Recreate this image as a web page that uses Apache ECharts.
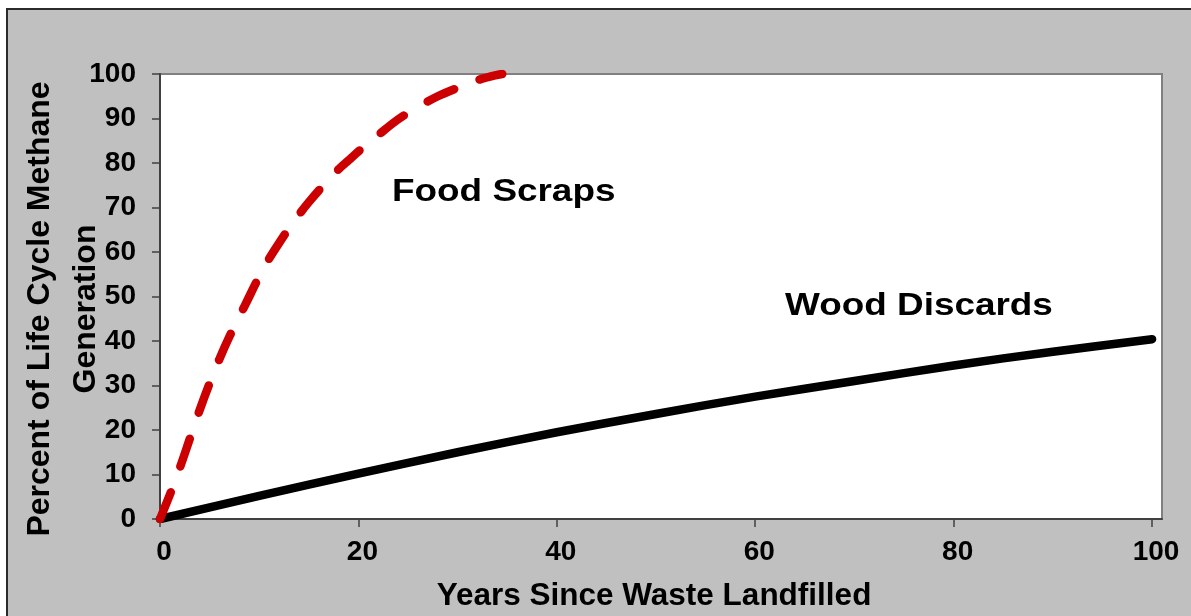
<!DOCTYPE html>
<html>
<head>
<meta charset="utf-8">
<title>Methane generation over time</title>
<script src="https://cdn.jsdelivr.net/npm/echarts@6/dist/echarts.min.js"></script>
<style>
  html, body { margin: 0; padding: 0; background: #ffffff; width: 1191px; height: 616px; overflow: hidden; }
  #frame { position: absolute; left: 6px; top: 8px; width: 1200px; height: 620px; background: #c0c0c0; border: 2px solid #2b2b2b; box-sizing: border-box; }
  #chart { position: absolute; left: 0; top: 0; width: 1191px; height: 616px; }
</style>
</head>
<body>
<div id="frame"></div>
<div id="chart"></div>
<script>
// Cumulative share of life-cycle methane generated, by years since landfilling
const foodYears = [0, 1, 2, 3, 4, 5, 6, 7, 8, 9, 10, 11, 12, 13, 14, 15, 16, 17, 18, 19, 20, 22, 24, 26, 28, 30, 32, 34, 34.5];
const foodPct   = [0, 5.5, 11.5, 18, 24.5, 30.5, 36, 41, 45.5, 50, 54.5, 58.5, 62, 65.3, 68.4, 71.2, 73.8, 76.2, 78.6, 80.6, 82.6, 86.3, 89.8, 92.6, 95.0, 96.9, 98.6, 99.8, 100];

const woodYears = [0, 10, 20, 30, 40, 50, 60, 70, 80, 90, 100];
const woodPct   = [0, 5.2, 10.2, 15.0, 19.5, 23.6, 27.5, 31.0, 34.5, 37.6, 40.4];

const xTicks = [0, 20, 40, 60, 80, 100];

const seriesNames = ['Food Scraps', 'Wood Discards'];
const xTitle = 'Years Since Waste Landfilled';
const yTitle = 'Percent of Life Cycle Methane\nGeneration';

const FONT = "'Liberation Sans', Arial, sans-serif";

function pairs(xs, ys) {
  return xs.map((x, i) => [x, ys[i]]);
}

const chart = echarts.init(document.getElementById('chart'), null, { renderer: 'canvas' });

chart.setOption({
  backgroundColor: 'transparent',
  animation: false,
  grid: {
    left: 160, top: 74, right: 29, bottom: 97,
    show: true,
    backgroundColor: '#ffffff',
    borderColor: '#808080',
    borderWidth: 2
  },
  xAxis: {
    type: 'value',
    min: 0,
    max: 101,
    interval: 20,
    splitLine: { show: false },
    axisLine: { show: true, onZero: false, lineStyle: { color: '#404040', width: 2 } },
    axisTick: { show: true, inside: false, length: 8, customValues: xTicks, lineStyle: { color: '#404040', width: 1.5 } },
    axisLabel: {
      customValues: xTicks,
      margin: 19,
      padding: [0, 0, 0, 8],
      color: '#000',
      fontFamily: FONT,
      fontWeight: 'bold',
      fontSize: 28
    }
  },
  yAxis: {
    type: 'value',
    min: 0,
    max: 100,
    interval: 10,
    splitLine: { show: false },
    axisLine: { show: true, onZero: false, lineStyle: { color: '#404040', width: 2 } },
    axisTick: { show: true, inside: false, length: 8, lineStyle: { color: '#404040', width: 1.5 } },
    axisLabel: {
      margin: 24,
      color: '#000',
      fontFamily: FONT,
      fontWeight: 'bold',
      fontSize: 28
    }
  },
  series: [
    {
      name: seriesNames[0],
      type: 'line',
      data: pairs(foodYears, foodPct),
      smooth: 0.3,
      showSymbol: false,
      z: 3,
      lineStyle: { color: '#cc0000', width: 8.5, type: [29, 27.5], cap: 'round', join: 'round' }
    },
    {
      name: seriesNames[1],
      type: 'line',
      data: pairs(woodYears, woodPct),
      smooth: 0.3,
      showSymbol: false,
      z: 2,
      lineStyle: { color: '#000000', width: 8.5, cap: 'round', join: 'round' }
    }
  ],
  graphic: [
    {
      type: 'text', x: 392, y: 192, scaleX: 1.19,
      style: { text: seriesNames[0], font: 'bold 31px ' + FONT, fill: '#000', textAlign: 'left', textVerticalAlign: 'middle' }
    },
    {
      type: 'text', x: 785, y: 306, scaleX: 1.19,
      style: { text: seriesNames[1], font: 'bold 31px ' + FONT, fill: '#000', textAlign: 'left', textVerticalAlign: 'middle' }
    },
    {
      type: 'text', x: 654, y: 596,
      style: { text: xTitle, font: 'bold 31.5px ' + FONT, fill: '#000', textAlign: 'center', textVerticalAlign: 'middle' }
    },
    {
      type: 'text', x: 63, y: 309, rotation: Math.PI / 2,
      style: { text: yTitle, font: 'bold 32px ' + FONT, fill: '#000', textAlign: 'center', textVerticalAlign: 'middle', lineHeight: 46 }
    }
  ]
});
</script>
</body>
</html>
